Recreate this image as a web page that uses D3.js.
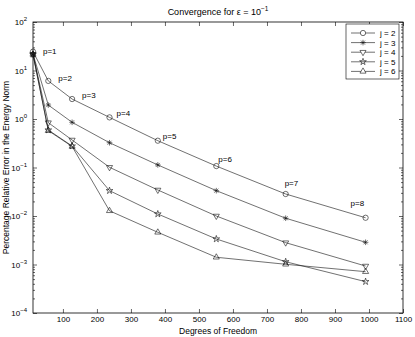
<!DOCTYPE html>
<html>
<head>
<meta charset="utf-8">
<script src="https://cdn.jsdelivr.net/npm/d3@7"></script>
<style>
body { margin: 0; background: #fff; }
text { font-family: "Liberation Sans", Arial, sans-serif; fill: #000; }
</style>
</head>
<body>
<div id="chart"></div>
<script>
// degrees of freedom for p = 1..8 (shared by every j)
var dof = [12, 57, 127, 237, 379, 551, 755, 990];
var pLabels = ["p=1", "p=2", "p=3", "p=4", "p=5", "p=6", "p=7", "p=8"];
var seriesNames = ["j = 2", "j = 3", "j = 4", "j = 5", "j = 6"];
var j2 = [24.5, 6.1, 2.58, 1.08, 0.357, 0.107, 0.0284, 0.0092];
var j3 = [21.8, 1.94, 0.855, 0.324, 0.113, 0.0333, 0.0090, 0.00287];
var j4 = [21.6, 0.84, 0.369, 0.101, 0.0344, 0.0100, 0.00282, 0.00093];
var j5 = [21.5, 0.593, 0.277, 0.0333, 0.0110, 0.00336, 0.00114, 0.000443];
var j6 = [21.5, 0.575, 0.272, 0.0128, 0.00461, 0.00141, 0.00101, 0.000711];
var xTicks = [100, 200, 300, 400, 500, 600, 700, 800, 900, 1000, 1100];
var yTicks = [1e-4, 1e-3, 1e-2, 1e-1, 1e0, 1e1, 1e2];

var margin = {top: 22, right: 12, bottom: 24, left: 33};
var W = 415, H = 337;
var width = W - margin.left - margin.right;
var height = H - margin.top - margin.bottom;

var svg = d3.select("#chart").append("svg")
    .attr("width", W)
    .attr("height", H);

var g = svg.append("g")
    .attr("transform", "translate(" + margin.left + "," + margin.top + ")");

var x = d3.scaleLinear().domain([12, 1100]).range([0, width]);
var y = d3.scaleLog().domain([1e-4, 1e2]).range([height, 0]);

// minor ticks for log axis
var minor = [];
for (var e = -4; e < 2; e++) {
    for (var k = 2; k <= 9; k++) minor.push(k * Math.pow(10, e));
}

var tickStyle = function (sel) {
    sel.select(".domain").remove();
    sel.selectAll("line").attr("stroke", "#000").attr("stroke-width", 0.6);
};

// x axis bottom and top (ticks inward)
g.append("g")
    .attr("transform", "translate(0," + height + ")")
    .call(d3.axisBottom(x).tickValues(xTicks).tickSizeInner(-4).tickSizeOuter(0)
        .tickPadding(3.5).tickFormat(d3.format("d")))
    .call(tickStyle)
    .selectAll("text")
    .attr("font-size", 8);
g.append("g")
    .call(d3.axisTop(x).tickValues(xTicks).tickSizeInner(-4).tickSizeOuter(0).tickFormat(""))
    .call(tickStyle);

// y axis left and right
g.append("g")
    .call(d3.axisLeft(y).tickValues(yTicks).tickSizeInner(-4).tickSizeOuter(0).tickFormat(""))
    .call(tickStyle);
g.append("g")
    .call(d3.axisLeft(y).tickValues(minor).tickSizeInner(-2).tickSizeOuter(0).tickFormat(""))
    .call(tickStyle);
g.append("g")
    .attr("transform", "translate(" + width + ",0)")
    .call(d3.axisRight(y).tickValues(yTicks).tickSizeInner(-4).tickSizeOuter(0).tickFormat(""))
    .call(tickStyle);
g.append("g")
    .attr("transform", "translate(" + width + ",0)")
    .call(d3.axisRight(y).tickValues(minor).tickSizeInner(-2).tickSizeOuter(0).tickFormat(""))
    .call(tickStyle);

// y tick labels 10^n
yTicks.forEach(function (v) {
    var ex = Math.round(Math.log10(v));
    var t = g.append("text")
        .attr("x", -6)
        .attr("y", y(v) + 3)
        .attr("text-anchor", "end")
        .attr("font-size", 8);
    t.append("tspan").text("10");
    t.append("tspan").attr("dy", -4).attr("font-size", 6)
        .text(ex < 0 ? "\u2212" + (-ex) : ex);
});

// frame
g.append("rect")
    .attr("width", width)
    .attr("height", height)
    .attr("fill", "none")
    .attr("stroke", "#000")
    .attr("stroke-width", 0.8);

// markers
function markerPath(type) {
    if (type === "circle") return d3.symbol(d3.symbolCircle, 22)();
    if (type === "star") return d3.symbol(d3.symbolStar, 14)();
    if (type === "tri") return d3.symbol(d3.symbolTriangle, 16)();
    if (type === "ast") return "M-2.8,0H2.8M0,-2.8V2.8M-2,-2L2,2M-2,2L2,-2";
    return "";
}
var allSeries = [
    {name: seriesNames[0], values: j2, marker: "circle", rot: 0},
    {name: seriesNames[1], values: j3, marker: "ast", rot: 0},
    {name: seriesNames[2], values: j4, marker: "tri", rot: 180},
    {name: seriesNames[3], values: j5, marker: "star", rot: 0},
    {name: seriesNames[4], values: j6, marker: "tri", rot: 0}
];

var line = d3.line()
    .x(function (d, i) { return x(dof[i]); })
    .y(function (d) { return y(d); });

allSeries.forEach(function (s) {
    g.append("path")
        .datum(s.values)
        .attr("d", line)
        .attr("fill", "none")
        .attr("stroke", "#111")
        .attr("stroke-width", 0.6);
    g.selectAll(null)
        .data(s.values)
        .enter()
        .append("path")
        .attr("d", markerPath(s.marker))
        .attr("transform", function (d, i) {
            return "translate(" + x(dof[i]) + "," + y(d) + ") rotate(" + s.rot + ")";
        })
        .attr("fill", "none")
        .attr("stroke", "#111")
        .attr("stroke-width", 0.6);
});

// p labels next to j = 2 points
var labDx = [10, 10, 10, 7, 5, 2, -1, -15];
var labDy = [2, 0, -1, -1, -2, -4, -8, -12];
g.selectAll(".plab")
    .data(pLabels)
    .enter()
    .append("text")
    .attr("class", "plab")
    .attr("x", function (d, i) { return x(dof[i]) + labDx[i]; })
    .attr("y", function (d, i) { return y(j2[i]) + labDy[i]; })
    .attr("font-size", 8)
    .text(function (d) { return d; });

// legend
var lg = g.append("g").attr("transform", "translate(" + (width - 57) + ",2)");
lg.append("rect")
    .attr("width", 53)
    .attr("height", 55)
    .attr("fill", "#fff")
    .attr("stroke", "#000")
    .attr("stroke-width", 0.6);
allSeries.forEach(function (s, i) {
    var yy = 9 + i * 9.6;
    lg.append("line")
        .attr("x1", 5).attr("x2", 29)
        .attr("y1", yy).attr("y2", yy)
        .attr("stroke", "#111").attr("stroke-width", 0.6);
    lg.append("path")
        .attr("d", markerPath(s.marker))
        .attr("transform", "translate(17," + yy + ") rotate(" + s.rot + ")")
        .attr("fill", s.marker === "circle" || s.marker === "tri" ? "#fff" : "none")
        .attr("stroke", "#111").attr("stroke-width", 0.6);
    lg.append("text")
        .attr("x", 34)
        .attr("y", yy + 3)
        .attr("font-size", 8)
        .text(s.name);
});

// title and axis labels
var title = svg.append("text")
    .attr("x", margin.left + width / 2)
    .attr("y", 15)
    .attr("text-anchor", "middle")
    .attr("font-size", 9);
title.append("tspan").text("Convergence for \u03b5 = 10");
title.append("tspan").attr("dy", -4).attr("font-size", 6.5).text("\u22121");

svg.append("text")
    .attr("x", margin.left + width / 2)
    .attr("y", 334)
    .attr("text-anchor", "middle")
    .attr("font-size", 8.5)
    .text("Degrees of Freedom");

svg.append("text")
    .attr("transform", "rotate(-90)")
    .attr("x", -(margin.top + height / 2))
    .attr("y", 9)
    .attr("text-anchor", "middle")
    .attr("font-size", 8.5)
    .text("Percentage Relative Error in the Energy Norm");
</script>
</body>
</html>
